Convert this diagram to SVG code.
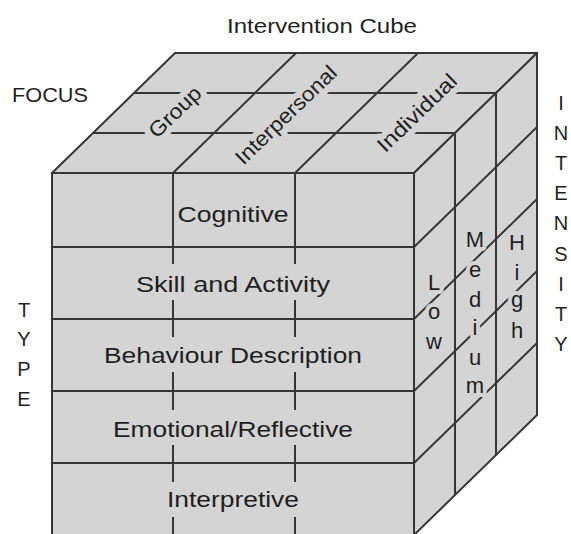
<svg xmlns="http://www.w3.org/2000/svg" width="571" height="534" viewBox="0 0 571 534">
<style>
.face{fill:#d4d4d4;stroke:#363636;stroke-width:2;stroke-linejoin:round}
.ln{stroke:#363636;stroke-width:2;fill:none}
.t{font-family:"Liberation Sans",Arial,sans-serif;fill:#1f1f1f}
.fr{font-size:22px;text-anchor:middle}
.tp{font-size:21px;text-anchor:middle;paint-order:stroke;stroke:#d4d4d4;stroke-width:12;stroke-linejoin:round}
.rt{font-size:22px;text-anchor:middle;paint-order:stroke;stroke:#d4d4d4;stroke-width:8;stroke-linejoin:round}
.ax{font-size:20px;text-anchor:middle}
</style>
<rect width="571" height="534" fill="#ffffff"/>
<g id="cube-faces">
<rect id="front-face" class="face" x="52" y="173" width="362" height="363"/>
<polygon id="top-face" class="face" points="52,173 175,53 537,53 414,173"/>
<polygon id="right-face" class="face" points="414,173 537,53 537,415 414,535"/>
</g>
<g id="connectors">
<path class="ln" d="M52 247H414M52 319H414M52 391H414M52 463H414"/>
<path class="ln" d="M173 173V264M173 300V337M173 372V410M173 445V482M173 517V536M295 173V264M295 300V337M295 372V410M295 445V482M295 517V536"/>
<path class="ln" d="M173 173L296 53M295 173L418 53M93 133H455M134 93H496"/>
<path class="ln" d="M455 133V495M496 93V455M414 247L537 127M414 319L537 199M414 391L537 271M414 463L537 343"/>
</g>
<g id="top-labels">
<g id="focus-group" transform="translate(175,112) rotate(-44)"><text class="t tp" x="0" y="7" textLength="64" lengthAdjust="spacingAndGlyphs">Group</text></g>
<g id="focus-interpersonal" transform="translate(286,115) rotate(-44)"><text class="t tp" x="0" y="7" textLength="132" lengthAdjust="spacingAndGlyphs">Interpersonal</text></g>
<g id="focus-individual" transform="translate(417,113) rotate(-44)"><text class="t tp" x="0" y="7" textLength="102" lengthAdjust="spacingAndGlyphs">Individual</text></g>
</g>
<g id="front-labels">
<text id="type-cognitive" class="t fr" x="233" y="222" textLength="111" lengthAdjust="spacingAndGlyphs">Cognitive</text>
<text id="type-skill" class="t fr" x="233" y="292" textLength="194" lengthAdjust="spacingAndGlyphs">Skill and Activity</text>
<text id="type-behaviour" class="t fr" x="233" y="363" textLength="258" lengthAdjust="spacingAndGlyphs">Behaviour Description</text>
<text id="type-emotional" class="t fr" x="233" y="437" textLength="240" lengthAdjust="spacingAndGlyphs">Emotional/Reflective</text>
<text id="type-interpretive" class="t fr" x="233" y="507" textLength="132" lengthAdjust="spacingAndGlyphs">Interpretive</text>
</g>
<g id="right-labels">
<g id="intensity-low">
<text class="t rt" x="434" y="290">L</text>
<text class="t rt" x="434" y="319">o</text>
<text class="t rt" x="434" y="349">w</text>
</g>
<g id="intensity-medium">
<text class="t rt" x="475" y="247">M</text>
<text class="t rt" x="475" y="277">e</text>
<text class="t rt" x="475" y="307">d</text>
<text class="t rt" x="475" y="335">i</text>
<text class="t rt" x="475" y="365">u</text>
<text class="t rt" x="475" y="393">m</text>
</g>
<g id="intensity-high">
<text class="t rt" x="517" y="250">H</text>
<text class="t rt" x="517" y="280">i</text>
<text class="t rt" x="517" y="307">g</text>
<text class="t rt" x="517" y="338">h</text>
</g>
</g>
<g id="axis-labels">
<text id="title" class="t" x="322" y="33" font-size="20" text-anchor="middle" textLength="190" lengthAdjust="spacingAndGlyphs">Intervention Cube</text>
<text id="focus-label" class="t" x="50" y="102" font-size="21" text-anchor="middle" textLength="76" lengthAdjust="spacingAndGlyphs">FOCUS</text>
<g id="type-label">
<text class="t ax" x="24" y="317">T</text>
<text class="t ax" x="24" y="346">Y</text>
<text class="t ax" x="24" y="376">P</text>
<text class="t ax" x="24" y="406">E</text>
</g>
<g id="intensity-label">
<text class="t ax" x="561" y="110">I</text>
<text class="t ax" x="561" y="140">N</text>
<text class="t ax" x="561" y="170">T</text>
<text class="t ax" x="561" y="200">E</text>
<text class="t ax" x="561" y="230">N</text>
<text class="t ax" x="561" y="261">S</text>
<text class="t ax" x="561" y="291">I</text>
<text class="t ax" x="561" y="321">T</text>
<text class="t ax" x="561" y="351">Y</text>
</g>
</g>
</svg>
